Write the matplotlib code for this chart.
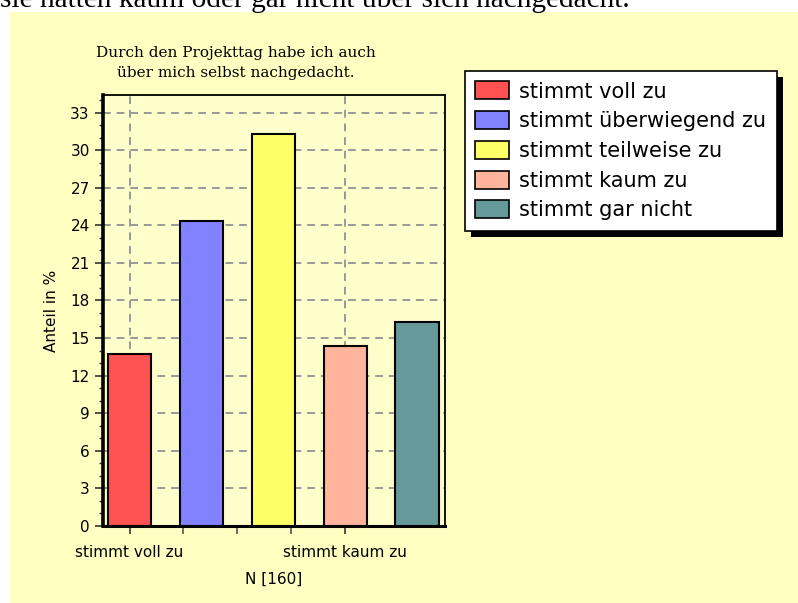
"""
Balkendiagramm: Durch den Projekttag habe ich auch über mich selbst nachgedacht.
"""

import matplotlib
matplotlib.use('Agg')

import matplotlib.pyplot as plt
from matplotlib.patches import Patch, Rectangle
from matplotlib.ticker import MultipleLocator, FixedLocator

# Daten
categories = ['stimmt voll zu', 'stimmt überwiegend zu', 'stimmt teilweise zu',
              'stimmt kaum zu', 'stimmt gar nicht']
values = [13.75, 24.375, 31.25, 14.375, 16.25]
colors = ['#FF5252', '#8282FF', '#FFFF66', '#FFB49B', '#66999A']
xtick_labels = ['stimmt voll zu', 'stimmt kaum zu']
xtick_positions = [0, 3]
title = 'Durch den Projekttag habe ich auch\nüber mich selbst nachgedacht.'
header = 'sie hatten kaum oder gar nicht über sich nachgedacht.'

W, H = 798, 603
fig = plt.figure(figsize=(W / 100, H / 100), dpi=100)
fig.patch.set_facecolor('white')

# gelbe Hintergrundfläche
fig.add_artist(Rectangle((10 / W, 0), 1 - 10 / W, 1 - 12 / H,
                         transform=fig.transFigure, facecolor='#FFFFC2',
                         edgecolor='none', zorder=0))

# Textzeile oben (im Original nur die untere Hälfte sichtbar)
fig.text(0.0, 1 - 7 / H, header, family='Liberation Serif', fontsize=21.2,
         va='baseline', ha='left')

ax = fig.add_axes([103 / W, 1 - 526 / H, (445 - 103) / W, (526 - 95) / H])
ax.set_facecolor('#FFFFCC')

x = range(len(values))
ax.bar(x, values, width=0.6, color=colors, edgecolor='black', linewidth=1.5,
       zorder=3)

ax.set_xlim(-0.37, 4.39)
ax.set_ylim(0, 34.4)

ax.yaxis.set_major_locator(MultipleLocator(3))
ax.yaxis.set_minor_locator(MultipleLocator(1))
ax.set_xticks(xtick_positions)
ax.set_xticklabels(xtick_labels)
ax.xaxis.set_minor_locator(FixedLocator([0.75, 1.5, 2.25]))

ax.tick_params(axis='both', which='major', labelsize=11, length=6, width=1.2,
               color='#333333')
ax.tick_params(axis='y', which='minor', length=3, width=1, color='#333333')
ax.tick_params(axis='x', which='minor', length=6, width=1.2, color='#555555')
ax.tick_params(axis='x', pad=8)

ax.grid(True, which='major', color='#999999', linestyle=(0, (4, 3)),
        linewidth=1.4, zorder=1)
ax.set_axisbelow(True)

for side in ['top', 'right']:
    ax.spines[side].set_linewidth(1.3)
ax.spines['left'].set_linewidth(2.6)
ax.spines['bottom'].set_linewidth(2.2)

ax.set_ylabel('Anteil in %', fontsize=11, labelpad=8)
ax.set_xlabel('N [160]', fontsize=11, labelpad=8)

fig.text(236 / W, 1 - 63 / H, title, family='DejaVu Serif', fontsize=11,
         ha='center', va='center', linespacing=1.5)

# Legende mit schwarzem Schatten
handles = [Patch(facecolor=c, edgecolor='black', linewidth=1.2) for c in colors]
leg = fig.legend(handles, categories, loc='upper left',
                 bbox_to_anchor=(465 / W, 1 - 71 / H), fontsize=15,
                 fancybox=False, framealpha=1, facecolor='white',
                 edgecolor='black', borderpad=0.5, labelspacing=0.46,
                 handlelength=1.6, handleheight=0.95, handletextpad=0.5,
                 borderaxespad=0)
leg.get_frame().set_linewidth(1.2)
leg.set_zorder(6)

fig.canvas.draw()
bb = leg.get_window_extent()
fig.add_artist(Rectangle(((bb.x0 + 6) / W, (bb.y0 - 6) / H), bb.width / W,
                         bb.height / H, transform=fig.transFigure,
                         facecolor='black', edgecolor='none', zorder=5))

fig.savefig('out.png', dpi=100, facecolor=fig.get_facecolor())
